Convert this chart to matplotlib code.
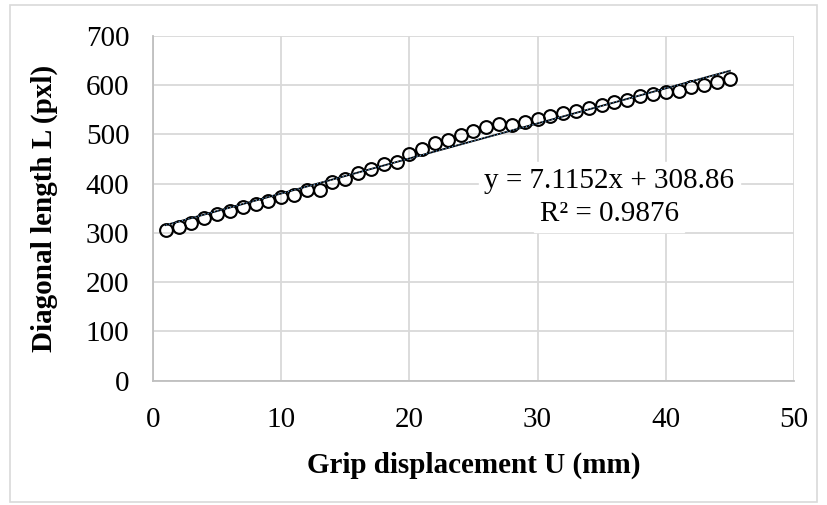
import numpy as np
import matplotlib.pyplot as plt
from matplotlib.patches import Rectangle

# grip displacement (mm) and measured diagonal length (pxl)
disp_mm = list(range(1, 46))
diag_len = [305, 312, 321, 331, 339, 344, 353, 358, 365, 373,
            378, 388, 388, 404, 410, 421, 429, 439, 444, 461,
            471, 482, 488, 499, 507, 516, 522, 520, 526, 531,
            537, 543, 547, 554, 560, 566, 570, 577, 581, 587,
            589, 596, 600, 607, 613]

# linear trend reported on the chart
slope = 7.1152
intercept = 308.86
r_squared = 0.9876

plt.rcParams['font.family'] = ['Liberation Serif', 'DejaVu Serif']

fig = plt.figure(figsize=(8.27, 5.05), dpi=100)
ax = fig.add_axes([0.185, 0.246, 0.775, 0.683])

# chart-area border
fig.patches.append(Rectangle((0.012, 0.006), 0.976, 0.984, transform=fig.transFigure,
                             fill=False, edgecolor='#d9d9d9', linewidth=1.2))

x = np.array(disp_mm)
ax.plot(x, diag_len, linestyle='none', marker='o', markersize=9.2,
        markerfacecolor='none', markeredgecolor='black', markeredgewidth=1.5, zorder=3)

xt = np.array([x[0], x[-1]])
ax.plot(xt, slope * xt + intercept, color='black', linewidth=1.3, zorder=4)
ax.plot(xt, slope * xt + intercept, color='#5b9bd5', linewidth=0.8,
        linestyle=(0, (1, 2)), zorder=5)

ax.text(35.6, 406, 'y = %.4fx + %.2f' % (slope, intercept), ha='center', va='center',
        fontsize=21, backgroundcolor='white', zorder=6)
ax.text(35.6, 339, 'R² = %.4f' % r_squared, ha='center', va='center',
        fontsize=21, backgroundcolor='white', zorder=6)

ax.set_xlim(0, 50)
ax.set_ylim(0, 700)
ax.set_xticks(range(0, 51, 10))
ax.set_yticks(range(0, 701, 100))
ax.grid(True, color='#d9d9d9', linewidth=1.3)
ax.set_axisbelow(True)
for side in ['top', 'right']:
    ax.spines[side].set_visible(False)
for side in ['left', 'bottom']:
    ax.spines[side].set_color('#bfbfbf')
    ax.spines[side].set_linewidth(1.3)
ax.tick_params(axis='both', length=0, labelsize=21)
ax.tick_params(axis='x', pad=19)
ax.tick_params(axis='y', pad=17)

ax.set_xlabel('Grip displacement U (mm)', fontsize=21, fontweight='bold', labelpad=13)
ax.set_ylabel('Diagonal length L (pxl)', fontsize=21, fontweight='bold', labelpad=20)

fig.savefig('out.png', dpi=100)
